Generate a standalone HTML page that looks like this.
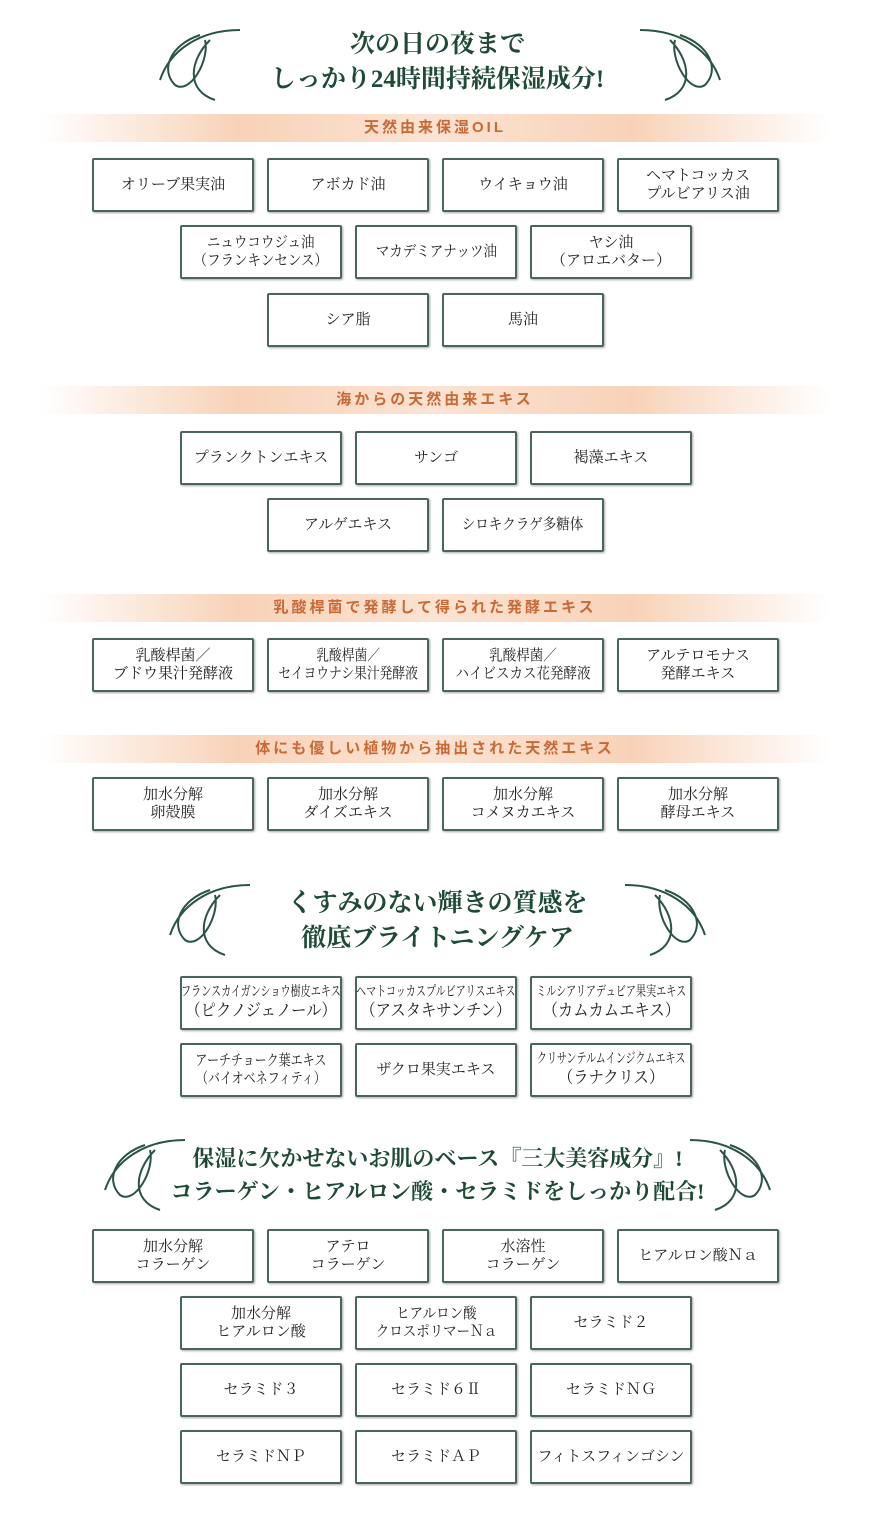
<!DOCTYPE html>
<html><head><meta charset="utf-8"><style>
body{margin:0;width:875px;height:1526px;background:#fff;position:relative;overflow:hidden;font-family:"Liberation Serif","Noto Serif CJK JP",serif;}
.b{position:absolute;width:158px;height:50px;border:2px solid #4a6658;border-radius:2px;box-shadow:1px 1px 2px rgba(0,0,0,.35);display:flex;align-items:center;justify-content:center;text-align:center;font-size:15px;line-height:18px;color:#222;box-sizing:content-box;white-space:nowrap;overflow:hidden}
.s span{display:inline-block;transform:scaleX(.72);font-size:14px;margin:0 -40px}
.n span{display:inline-block;transform:scaleX(.9);margin:0 -20px}
.band{position:absolute;left:40px;width:790px;height:28px;background:linear-gradient(90deg,rgba(247,200,170,0) 0%,#f8d2b8 25%,#fbe3d3 50%,#f8d2b8 75%,rgba(247,200,170,0) 100%);text-align:center;font-family:"Liberation Sans","Noto Sans CJK JP",sans-serif;font-weight:bold;font-size:15px;line-height:28px;color:#c86a36;letter-spacing:3px}
.h{position:absolute;left:0;width:875px;text-align:center;font-family:"Liberation Serif","Noto Serif CJK JP",serif;font-weight:bold;color:#1e4a36;font-size:25px;line-height:35px}
svg{position:absolute}
</style></head><body>
<svg width="875" height="1526" style="left:0;top:0" fill="none" stroke="#2a5542" stroke-width="2">
<path d="M240 30 C200 30 170 50 160 80 M200 35 C170 45 160 70 175 85 C190 95 210 60 205 40 M210 40 C190 60 185 90 215 100"/>
<path d="M640 30 C680 30 710 50 720 80 M680 35 C710 45 720 70 705 85 C690 95 670 60 675 40 M670 40 C690 60 695 90 665 100"/>
<path d="M250 885 C210 885 180 905 170 935 M210 890 C180 900 170 925 185 940 C200 950 220 915 215 895 M220 895 C200 915 195 945 225 955"/>
<path d="M625 885 C665 885 695 905 705 935 M665 890 C695 900 705 925 690 940 C675 950 655 915 660 895 M655 895 C675 915 680 945 650 955"/>
<path d="M185 1140 C145 1140 115 1160 105 1190 M145 1145 C115 1155 105 1180 120 1195 C135 1205 155 1170 150 1150 M155 1150 C135 1170 130 1200 160 1210"/>
<path d="M690 1140 C730 1140 760 1160 770 1190 M730 1145 C760 1155 770 1180 755 1195 C740 1205 720 1170 725 1150 M720 1150 C740 1170 745 1200 715 1210"/>
</svg>
<div class="h" style="top:27px">次の日の夜まで<br>しっかり24時間持続保湿成分!</div>
<div class="band" style="top:114px">天然由来保湿OIL</div>
<div class="b" style="left:92px;top:158px">オリーブ果実油</div>
<div class="b" style="left:267px;top:158px">アボカド油</div>
<div class="b" style="left:442px;top:158px">ウイキョウ油</div>
<div class="b" style="left:617px;top:158px">ヘマトコッカス<br>プルビアリス油</div>
<div class="b n" style="left:180px;top:225px"><span>ニュウコウジュ油<br>（フランキンセンス）</span></div>
<div class="b n" style="left:355px;top:225px"><span>マカデミアナッツ油</span></div>
<div class="b" style="left:530px;top:225px">ヤシ油<br>（アロエバター）</div>
<div class="b" style="left:267px;top:293px">シア脂</div>
<div class="b" style="left:442px;top:293px">馬油</div>
<div class="band" style="top:386px">海からの天然由来エキス</div>
<div class="b" style="left:180px;top:431px">プランクトンエキス</div>
<div class="b" style="left:355px;top:431px">サンゴ</div>
<div class="b" style="left:530px;top:431px">褐藻エキス</div>
<div class="b" style="left:267px;top:498px">アルゲエキス</div>
<div class="b n" style="left:442px;top:498px"><span>シロキクラゲ多糖体</span></div>
<div class="band" style="top:594px">乳酸桿菌で発酵して得られた発酵エキス</div>
<div class="b" style="left:92px;top:638px">乳酸桿菌／<br>ブドウ果汁発酵液</div>
<div class="b n" style="left:267px;top:638px"><span style="transform:scaleX(.85)">乳酸桿菌／<br>セイヨウナシ果汁発酵液</span></div>
<div class="b n" style="left:442px;top:638px"><span>乳酸桿菌／<br>ハイビスカス花発酵液</span></div>
<div class="b" style="left:617px;top:638px">アルテロモナス<br>発酵エキス</div>
<div class="band" style="top:735px">体にも優しい植物から抽出された天然エキス</div>
<div class="b" style="left:92px;top:777px">加水分解<br>卵殻膜</div>
<div class="b" style="left:267px;top:777px">加水分解<br>ダイズエキス</div>
<div class="b" style="left:442px;top:777px">加水分解<br>コメヌカエキス</div>
<div class="b" style="left:617px;top:777px">加水分解<br>酵母エキス</div>
<div class="h" style="top:886px">くすみのない輝きの質感を<br>徹底ブライトニングケア</div>
<div class="b s" style="left:180px;top:976px"><span>フランスカイガンショウ樹皮エキス<br><span style="font-size:17px;transform:scaleX(1.25)">（ピクノジェノール）</span></span></div>
<div class="b s" style="left:355px;top:976px"><span>ヘマトコッカスプルビアリスエキス<br><span style="font-size:17px;transform:scaleX(1.25)">（アスタキサンチン）</span></span></div>
<div class="b s" style="left:530px;top:976px"><span>ミルシアリアデュビア果実エキス<br><span style="font-size:17px;transform:scaleX(1.25)">（カムカムエキス）</span></span></div>
<div class="b n" style="left:180px;top:1043px"><span style="transform:scaleX(.8)">アーチチョーク葉エキス<br>（バイオベネフィティ）</span></div>
<div class="b" style="left:355px;top:1043px">ザクロ果実エキス</div>
<div class="b s" style="left:530px;top:1043px"><span>クリサンテルムインジクムエキス<br><span style="font-size:17px;transform:scaleX(1.25)">（ラナクリス）</span></span></div>
<div class="h" style="top:1142px;font-size:22px;line-height:33px">保湿に欠かせないお肌のベース『三大美容成分』!<br>コラーゲン・ヒアルロン酸・セラミドをしっかり配合!</div>
<div class="b" style="left:92px;top:1229px">加水分解<br>コラーゲン</div>
<div class="b" style="left:267px;top:1229px">アテロ<br>コラーゲン</div>
<div class="b" style="left:442px;top:1229px">水溶性<br>コラーゲン</div>
<div class="b" style="left:617px;top:1229px">ヒアルロン酸Ｎａ</div>
<div class="b" style="left:180px;top:1296px">加水分解<br>ヒアルロン酸</div>
<div class="b n" style="left:355px;top:1296px"><span>ヒアルロン酸<br>クロスポリマーＮａ</span></div>
<div class="b" style="left:530px;top:1296px">セラミド２</div>
<div class="b" style="left:180px;top:1363px">セラミド３</div>
<div class="b" style="left:355px;top:1363px">セラミド６Ⅱ</div>
<div class="b" style="left:530px;top:1363px">セラミドＮＧ</div>
<div class="b" style="left:180px;top:1430px">セラミドＮＰ</div>
<div class="b" style="left:355px;top:1430px">セラミドＡＰ</div>
<div class="b" style="left:530px;top:1430px">フィトスフィンゴシン</div>
</body></html>
